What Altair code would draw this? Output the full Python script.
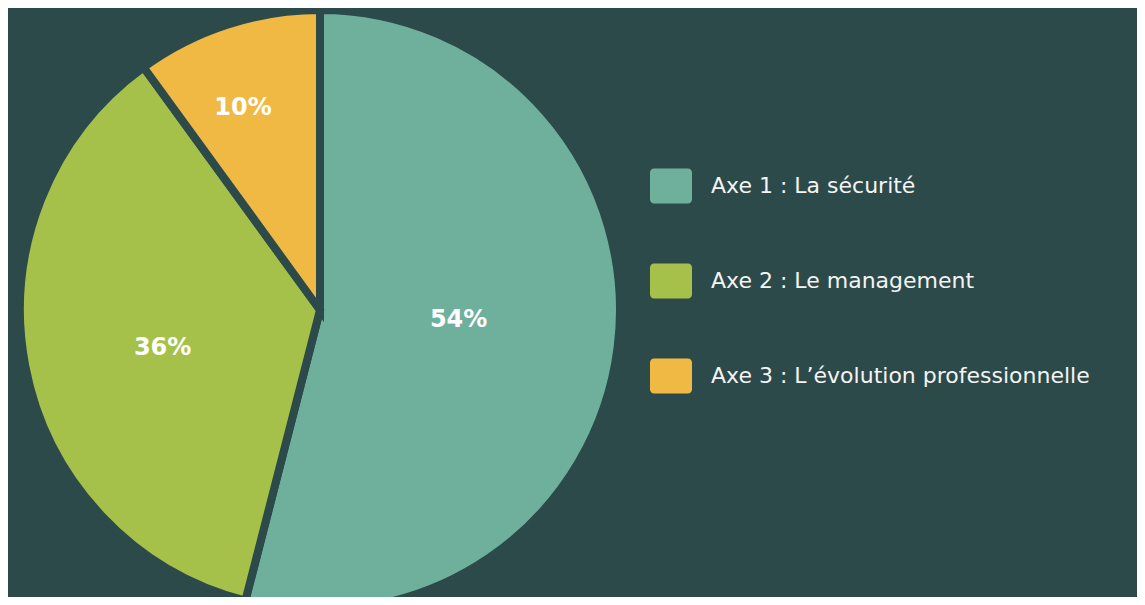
import altair as alt
import pandas as pd

categories = ["Axe 1 : La sécurité", "Axe 2 : Le management", "Axe 3 : L’évolution professionnelle"]
values = [54, 36, 10]
labels = ["54%", "36%", "10%"]
colors = ["#6fb09c", "#a6c14a", "#f0b944"]

BG = "#2c4a4a"

df = pd.DataFrame({"cat": categories, "val": values, "lab": labels, "idx": list(range(len(categories)))})

CX, CY = 312, 302

pie = alt.Chart(df).mark_arc(outerRadius=300, stroke=BG, strokeWidth=8, strokeJoin="miter").encode(
    theta=alt.Theta("val:Q", stack=True),
    order=alt.Order("idx:Q"),
    x=alt.value(CX),
    y=alt.value(CY),
    color=alt.Color(
        "cat:N",
        scale=alt.Scale(domain=categories, range=colors),
        sort=categories,
        legend=alt.Legend(
            title=None,
            orient="none",
            legendX=642,
            legendY=157,
            padding=0,
            symbolType="M-0.81,-0.833 H0.81 A0.19,0.19 0 0 1 1,-0.643 V0.643 A0.19,0.19 0 0 1 0.81,0.833 H-0.81 A0.19,0.19 0 0 1 -1,0.643 V-0.643 A0.19,0.19 0 0 1 -0.81,-0.833 Z",
            symbolSize=1764,
            symbolStrokeWidth=0,
            symbolOpacity=1,
            labelFontSize=22,
            labelFont="DejaVu Sans",
            labelColor="#f4f4f4",
            labelOffset=19,
            labelLimit=500,
            rowPadding=56,
        ),
    ),
)

text = alt.Chart(df).transform_window(
    cum="sum(val)", sort=[alt.SortField("idx")], frame=[None, 0]
).transform_joinaggregate(
    total="sum(val)"
).transform_calculate(
    mid="(datum.cum - datum.val / 2) / datum.total - 0.008",
    r="datum.idx == 0 ? 139 : (datum.idx == 1 ? 162 : 216)",
).mark_text(
    font="DejaVu Sans", fontWeight="bold", fontSize=24, color="white",
    align="center", baseline="middle",
).encode(
    theta=alt.Theta("mid:Q", scale=alt.Scale(domain=[0, 1], range=[0, 6.283185307]), stack=None),
    radius=alt.Radius("r:Q", scale=None),
    x=alt.value(CX), y=alt.value(CY), text="lab:N",
)

chart = alt.layer(pie, text).resolve_scale(theta="independent").properties(
    width=1129, height=589, background=BG, padding=0,
    autosize=alt.AutoSizeParams(type="none"),
).configure_view(stroke=None)

chart.save("out.html", embed_options={"renderer": "svg", "actions": False})
